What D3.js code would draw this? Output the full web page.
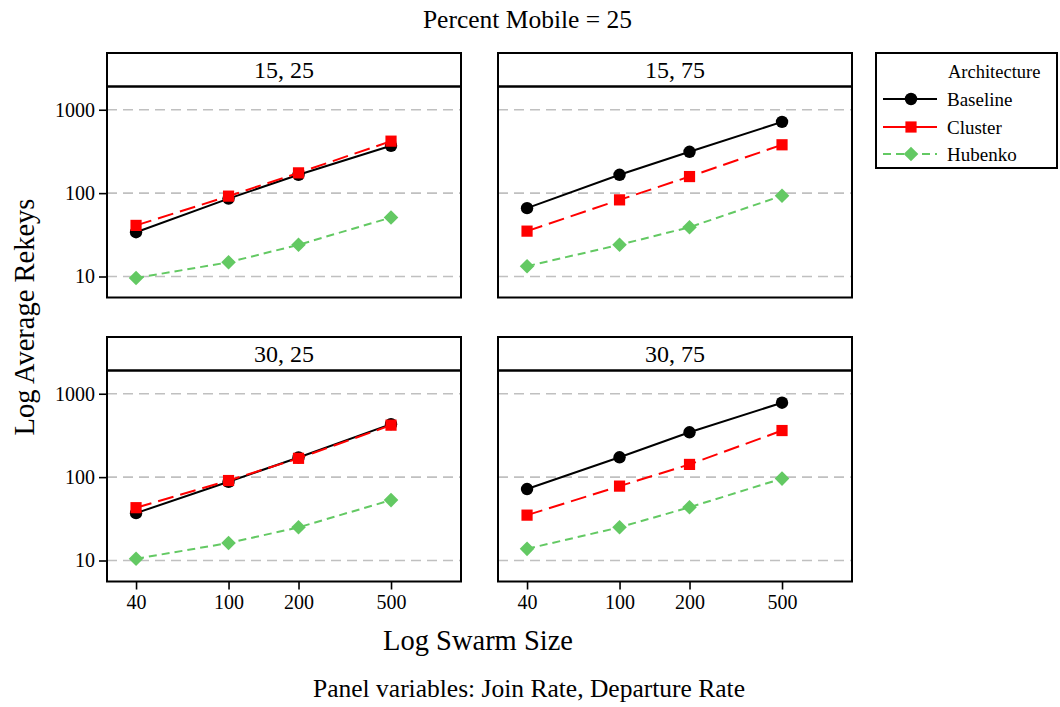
<!DOCTYPE html>
<html>
<head>
<meta charset="utf-8">
<script src="https://cdn.jsdelivr.net/npm/d3@7"></script>
<style>
  html, body { margin: 0; padding: 0; background: #fff; }
  svg { display: block; font-family: "Liberation Serif", "DejaVu Serif", serif; }
</style>
</head>
<body>
<svg id="chart" width="1060" height="707"></svg>
<script>
// Swarm sizes on the x axis
const swarmSizes = [40, 100, 200, 500];
const xTickValues = [40, 100, 200, 500];
const yTickValues = [10, 100, 1000];

// Panels: join rate, departure rate
const panelLabels = ["15, 25", "15, 75", "30, 25", "30, 75"];

// Average rekeys per architecture, one row per panel (same order as panelLabels)
const baseline = [
  [34, 86, 166, 370],
  [66, 166, 313, 715],
  [37, 88, 172, 432],
  [72, 173, 345, 780]
];
const cluster = [
  [41, 92, 175, 420],
  [35, 83, 158, 380],
  [43, 91, 168, 420],
  [35, 78, 142, 362]
];
const hubenko = [
  [9.6, 14.8, 24, 51],
  [13.3, 24, 39, 93],
  [10.5, 16.2, 25, 53],
  [13.8, 25, 43.5, 96]
];

const seriesNames = ["Baseline", "Cluster", "Hubenko"];
const seriesData = [baseline, cluster, hubenko];

const styles = {
  Baseline: { color: "#000000", dash: null, marker: "circle" },
  Cluster:  { color: "#FF0000", dash: "16,7", marker: "square" },
  Hubenko:  { color: "#63C963", dash: "8,5", marker: "diamond" }
};

const svg = d3.select("#chart");

const colX = [107, 498];
const panelW = 354;
const headerTop = [53, 337];
const headerH = 33.5;
const plotH = 211;

function markerPath(type) {
  if (type === "circle") return d3.symbol().type(d3.symbolCircle).size(Math.PI * 6.2 * 6.2)();
  if (type === "square") return d3.symbol().type(d3.symbolSquare).size(11.2 * 11.2)();
  return "M0,-7.3L7.3,0L0,7.3L-7.3,0Z";
}

panelLabels.forEach((label, p) => {
  const row = Math.floor(p / 2), col = p % 2;
  const x0 = colX[col];
  const hTop = headerTop[row];
  const pTop = hTop + headerH;
  const pBot = pTop + plotH;

  const x = d3.scaleLog().domain([30, 1000]).range([x0, x0 + panelW]);
  const y = d3.scaleLog().domain([5.6, 1900]).range([pBot, pTop]);

  const g = svg.append("g");

  // gridlines
  g.selectAll("line.grid").data(yTickValues).join("line")
    .attr("x1", x0).attr("x2", x0 + panelW)
    .attr("y1", d => y(d)).attr("y2", d => y(d))
    .attr("stroke", "#C0C0C0").attr("stroke-width", 1.6)
    .attr("stroke-dasharray", "10,6");

  // series lines and markers
  seriesNames.forEach((name, s) => {
    const st = styles[name];
    const vals = seriesData[s][p];
    const pts = swarmSizes.map((v, i) => [x(v), y(vals[i])]);
    g.append("path")
      .attr("d", d3.line()(pts))
      .attr("fill", "none")
      .attr("stroke", st.color)
      .attr("stroke-width", 2)
      .attr("stroke-dasharray", st.dash);
    g.selectAll(null).data(pts).join("path")
      .attr("transform", d => `translate(${d[0]},${d[1]})`)
      .attr("d", markerPath(st.marker))
      .attr("fill", st.color);
  });

  // header strip
  g.append("rect")
    .attr("x", x0).attr("y", hTop).attr("width", panelW).attr("height", headerH)
    .attr("fill", "#fff").attr("stroke", "#000").attr("stroke-width", 2);
  g.append("text")
    .attr("x", x0 + panelW / 2).attr("y", hTop + headerH / 2 + 8.5)
    .attr("text-anchor", "middle").attr("font-size", 24)
    .text(label);

  // panel frame
  g.append("rect")
    .attr("x", x0).attr("y", pTop).attr("width", panelW).attr("height", plotH)
    .attr("fill", "none").attr("stroke", "#000").attr("stroke-width", 2);

  // y axis on the left column
  if (col === 0) {
    const ax = svg.append("g").attr("transform", `translate(${x0},0)`)
      .call(d3.axisLeft(y).tickValues(yTickValues).tickFormat(d3.format("d")).tickSize(8).tickPadding(4));
    ax.select(".domain").remove();
    ax.selectAll(".tick line").attr("stroke", "#000").attr("stroke-width", 1.6);
    ax.selectAll(".tick text").attr("font-size", 20).attr("fill", "#000")
      .attr("font-family", "Liberation Serif");
  }
  // x axis on the bottom row
  if (row === 1) {
    const ax = svg.append("g").attr("transform", `translate(0,${pBot})`)
      .call(d3.axisBottom(x).tickValues(xTickValues).tickFormat(d3.format("d")).tickSize(8).tickPadding(5));
    ax.select(".domain").remove();
    ax.selectAll(".tick line").attr("stroke", "#000").attr("stroke-width", 1.6);
    ax.selectAll(".tick text").attr("font-size", 20).attr("fill", "#000")
      .attr("font-family", "Liberation Serif");
  }
});

// titles
svg.append("text").attr("x", 527.5).attr("y", 27.5).attr("text-anchor", "middle")
  .attr("font-size", 25.5).text("Percent Mobile = 25");
svg.append("text").attr("x", 478).attr("y", 650).attr("text-anchor", "middle")
  .attr("font-size", 28.5).text("Log Swarm Size");
svg.append("text").attr("x", 529).attr("y", 697).attr("text-anchor", "middle")
  .attr("font-size", 25.5).text("Panel variables: Join Rate, Departure Rate");
svg.append("text")
  .attr("transform", "translate(33.5,317) rotate(-90)")
  .attr("text-anchor", "middle").attr("font-size", 28.5)
  .text("Log Average Rekeys");

// legend
const lg = svg.append("g");
lg.append("rect").attr("x", 876).attr("y", 53).attr("width", 181).attr("height", 115)
  .attr("fill", "#fff").attr("stroke", "#000").attr("stroke-width", 2);
lg.append("text").attr("x", 948).attr("y", 78).attr("font-size", 18.5).text("Architecture");
const legendY = [99, 127, 154];
seriesNames.forEach((name, i) => {
  const st = styles[name];
  const yy = legendY[i];
  lg.append("line").attr("x1", 883).attr("x2", 937).attr("y1", yy).attr("y2", yy)
    .attr("stroke", st.color).attr("stroke-width", 2)
    .attr("stroke-dasharray", name === "Hubenko" ? "8,5" : null);
  lg.append("path").attr("transform", `translate(911,${yy})`)
    .attr("d", markerPath(st.marker)).attr("fill", st.color);
  lg.append("text").attr("x", 947).attr("y", yy + 6.5).attr("font-size", 19).text(name);
});
</script>
</body>
</html>
